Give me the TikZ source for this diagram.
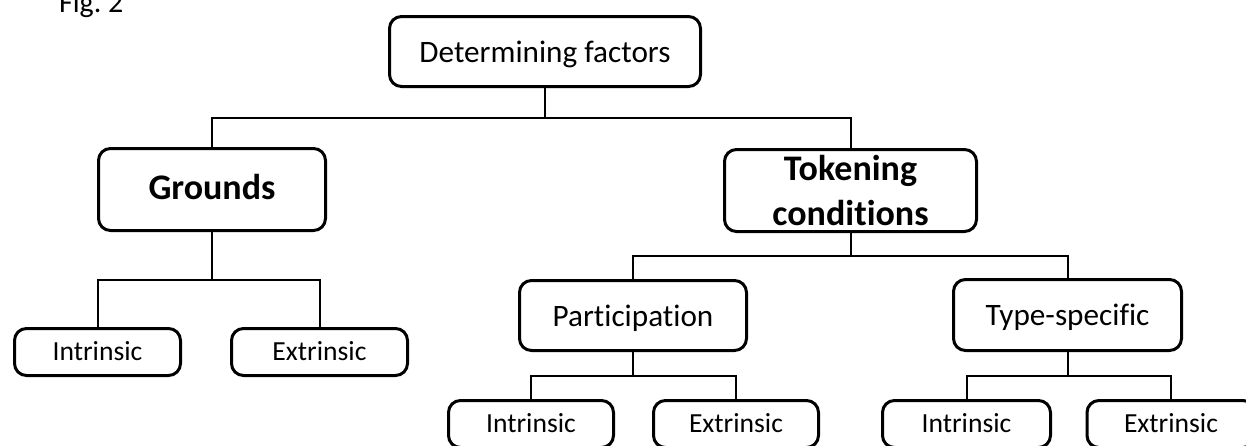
\documentclass[tikz,border=0pt]{standalone}
\usepackage{fontspec}
\setmainfont{Carlito}[Ligatures={NoCommon,NoRequired,NoContextual}]
\usetikzlibrary{calc}

\tikzset{
	box/.style={draw, line width=1.5pt, rounded corners=6pt, inner sep=0pt, align=center},
	headbox/.style={box, font=\fontsize{15.6}{19}\selectfont, text height=1.15em, text depth=0.1em},
	keybox/.style={box, font=\fontsize{18}{22.5}\selectfont\bfseries},
	leafbox/.style={box, font=\fontsize{13.8}{17}\selectfont, text height=1em, text depth=0.15em, minimum height=23.5pt},
	link/.style={line width=1pt},
}

\begin{document}
\begin{tikzpicture}[x=0.5pt, y=-0.5pt]
		\useasboundingbox[fill=white] (0,0) rectangle (1246,445);
	
		\node[anchor=base west, font=\fontsize{15}{18}\selectfont] (fig) at (52,12) {Fig.\ 2};
		
		\node[headbox, minimum width=155.5pt, minimum height=35pt] (det) at (545,51.5) {Determining factors};
		
		\node[keybox, minimum width=113.5pt, minimum height=41pt, text height=1.1em, text depth=0.1em] (grounds) at (212,189.5) {Grounds};
		\node[keybox, minimum width=126pt, minimum height=41pt] (token) at (850.5,190.5) {Tokening\\conditions};
		
		\node[leafbox, minimum width=83pt] (intrG) at (97.5,352) {Intrinsic};
		\node[leafbox, minimum width=88pt] (extrG) at (319.5,352) {Extrinsic};
		
		\node[headbox, minimum width=113.5pt, minimum height=35pt] (part) at (633,315.5) {Participation};
		\node[headbox, minimum width=114pt, minimum height=35.5pt] (type) at (1067.5,315) {Type-specific};
		
		\node[leafbox, minimum width=82.5pt] (intrP) at (531,424) {Intrinsic};
		\node[leafbox, minimum width=82.5pt] (extrP) at (736,424) {Extrinsic};
		\node[leafbox, minimum width=84pt] (intrT) at (966.5,424) {Intrinsic};
		\node[leafbox, minimum width=84pt] (extrT) at (1171,424) {Extrinsic};
		
		% elbow connectors, bar halfway between parent and child
		\foreach \p/\c in {det/grounds, det/token, grounds/intrG, grounds/extrG, token/part, token/type, part/intrP, part/extrP, type/intrT, type/extrT}
			\draw[link] (\p.south) |- ($(\p.south)!.5!(\c.north)$) -| (\c.north);
	
	\end{tikzpicture}
\end{document}
